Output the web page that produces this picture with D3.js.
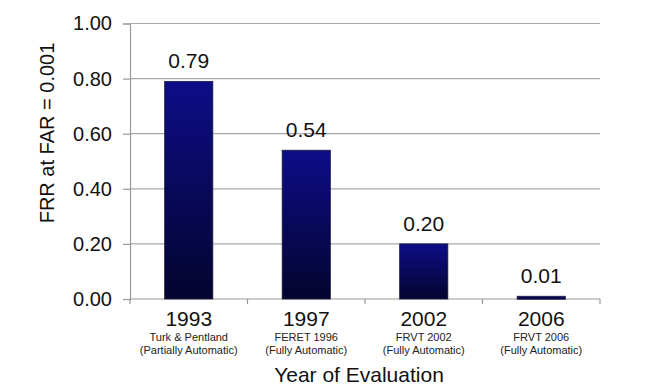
<!DOCTYPE html>
<html>
<head>
<meta charset="utf-8">
<script src="https://cdn.jsdelivr.net/npm/d3@7"></script>
<style>
  body { margin: 0; background: #fff; }
  svg { display: block; font-family: Arial, "Liberation Sans", sans-serif; }
</style>
</head>
<body>
<div id="chart"></div>
<script>
// data
const years = ["1993", "1997", "2002", "2006"];
const evalNames = ["Turk & Pentland", "FERET 1996", "FRVT 2002", "FRVT 2006"];
const evalModes = ["(Partially Automatic)", "(Fully Automatic)", "(Fully Automatic)", "(Fully Automatic)"];
const frr = [0.79, 0.54, 0.20, 0.01];
const yTicks = [0, 0.2, 0.4, 0.6, 0.8, 1.0];

const width = 655, height = 390;
const margin = { top: 23.5, right: 55, bottom: 91, left: 130 };
const innerW = width - margin.left - margin.right;
const innerH = height - margin.top - margin.bottom;

const svg = d3.select("#chart").append("svg")
  .attr("width", width)
  .attr("height", height);

const g = svg.append("g")
  .attr("transform", `translate(${margin.left},${margin.top})`);

const x = d3.scaleBand()
  .domain(years)
  .range([0, innerW])
  .paddingInner(0.59)
  .paddingOuter(0.295);

const y = d3.scaleLinear()
  .domain([0, 1])
  .range([innerH, 0]);

// gradient for bars
const defs = svg.append("defs");
const grad = defs.append("linearGradient")
  .attr("id", "barGrad")
  .attr("x1", "0%").attr("x2", "0%")
  .attr("y1", "0%").attr("y2", "100%");
grad.append("stop").attr("offset", "0%").attr("stop-color", "#0d0d88");
grad.append("stop").attr("offset", "100%").attr("stop-color", "#04042e");

// gridlines
g.selectAll("line.grid")
  .data(yTicks.filter(d => d > 0))
  .join("line")
  .attr("class", "grid")
  .attr("x1", 0).attr("x2", innerW)
  .attr("y1", d => y(d)).attr("y2", d => y(d))
  .attr("stroke", "#a8a8a8")
  .attr("stroke-width", 1.2);

// y axis
const yAxis = g.append("g")
  .call(d3.axisLeft(y).tickValues(yTicks).tickFormat(d3.format(".2f")).tickSize(7).tickPadding(11));
yAxis.select(".domain").attr("stroke", "#999").attr("stroke-width", 1.2);
yAxis.selectAll(".tick line").attr("stroke", "#999").attr("stroke-width", 1.2);
yAxis.selectAll(".tick text")
  .attr("fill", "#111")
  .style("font-size", "20px")
  .style("font-family", "Arial, 'Liberation Sans', sans-serif");

// x axis (tick marks at band edges)
const edges = d3.range(years.length + 1).map(i => i * x.step());
g.append("line")
  .attr("x1", 0).attr("x2", innerW)
  .attr("y1", innerH).attr("y2", innerH)
  .attr("stroke", "#999").attr("stroke-width", 1.2);
g.selectAll("line.xtick")
  .data(edges)
  .join("line")
  .attr("class", "xtick")
  .attr("x1", d => d).attr("x2", d => d)
  .attr("y1", innerH).attr("y2", innerH + 5)
  .attr("stroke", "#999").attr("stroke-width", 1.2);

// bars
g.selectAll("rect.bar")
  .data(frr)
  .join("rect")
  .attr("class", "bar")
  .attr("x", (d, i) => x(years[i]))
  .attr("y", d => y(d))
  .attr("width", x.bandwidth())
  .attr("height", d => Math.max(3, innerH - y(d)))
  .attr("fill", "url(#barGrad)")
  .attr("stroke", "#1b1b3c")
  .attr("stroke-width", 0.8);

// value labels
g.selectAll("text.val")
  .data(frr)
  .join("text")
  .attr("class", "val")
  .attr("x", (d, i) => x(years[i]) + x.bandwidth() / 2)
  .attr("y", d => y(d) - 13)
  .attr("text-anchor", "middle")
  .style("font-size", "21px")
  .attr("fill", "#111")
  .text(d => d3.format(".2f")(d));

// category labels
const cats = g.selectAll("g.cat")
  .data(years)
  .join("g")
  .attr("class", "cat")
  .attr("transform", d => `translate(${x(d) + x.bandwidth() / 2},${innerH})`);

cats.append("text")
  .attr("y", 27)
  .attr("text-anchor", "middle")
  .style("font-size", "21px")
  .attr("fill", "#111")
  .text(d => d);

cats.append("text")
  .attr("y", 42)
  .attr("text-anchor", "middle")
  .style("font-size", "11px")
  .attr("fill", "#222")
  .text((d, i) => evalNames[i]);

cats.append("text")
  .attr("y", 55)
  .attr("text-anchor", "middle")
  .style("font-size", "11px")
  .attr("fill", "#222")
  .text((d, i) => evalModes[i]);

// axis titles
svg.append("text")
  .attr("x", 359)
  .attr("y", 382)
  .attr("text-anchor", "middle")
  .style("font-size", "21px")
  .attr("fill", "#111")
  .text("Year of Evaluation");

svg.append("text")
  .attr("transform", "translate(54,133) rotate(-90)")
  .attr("text-anchor", "middle")
  .style("font-size", "20px")
  .attr("fill", "#111")
  .text("FRR at FAR = 0.001");
</script>
</body>
</html>
